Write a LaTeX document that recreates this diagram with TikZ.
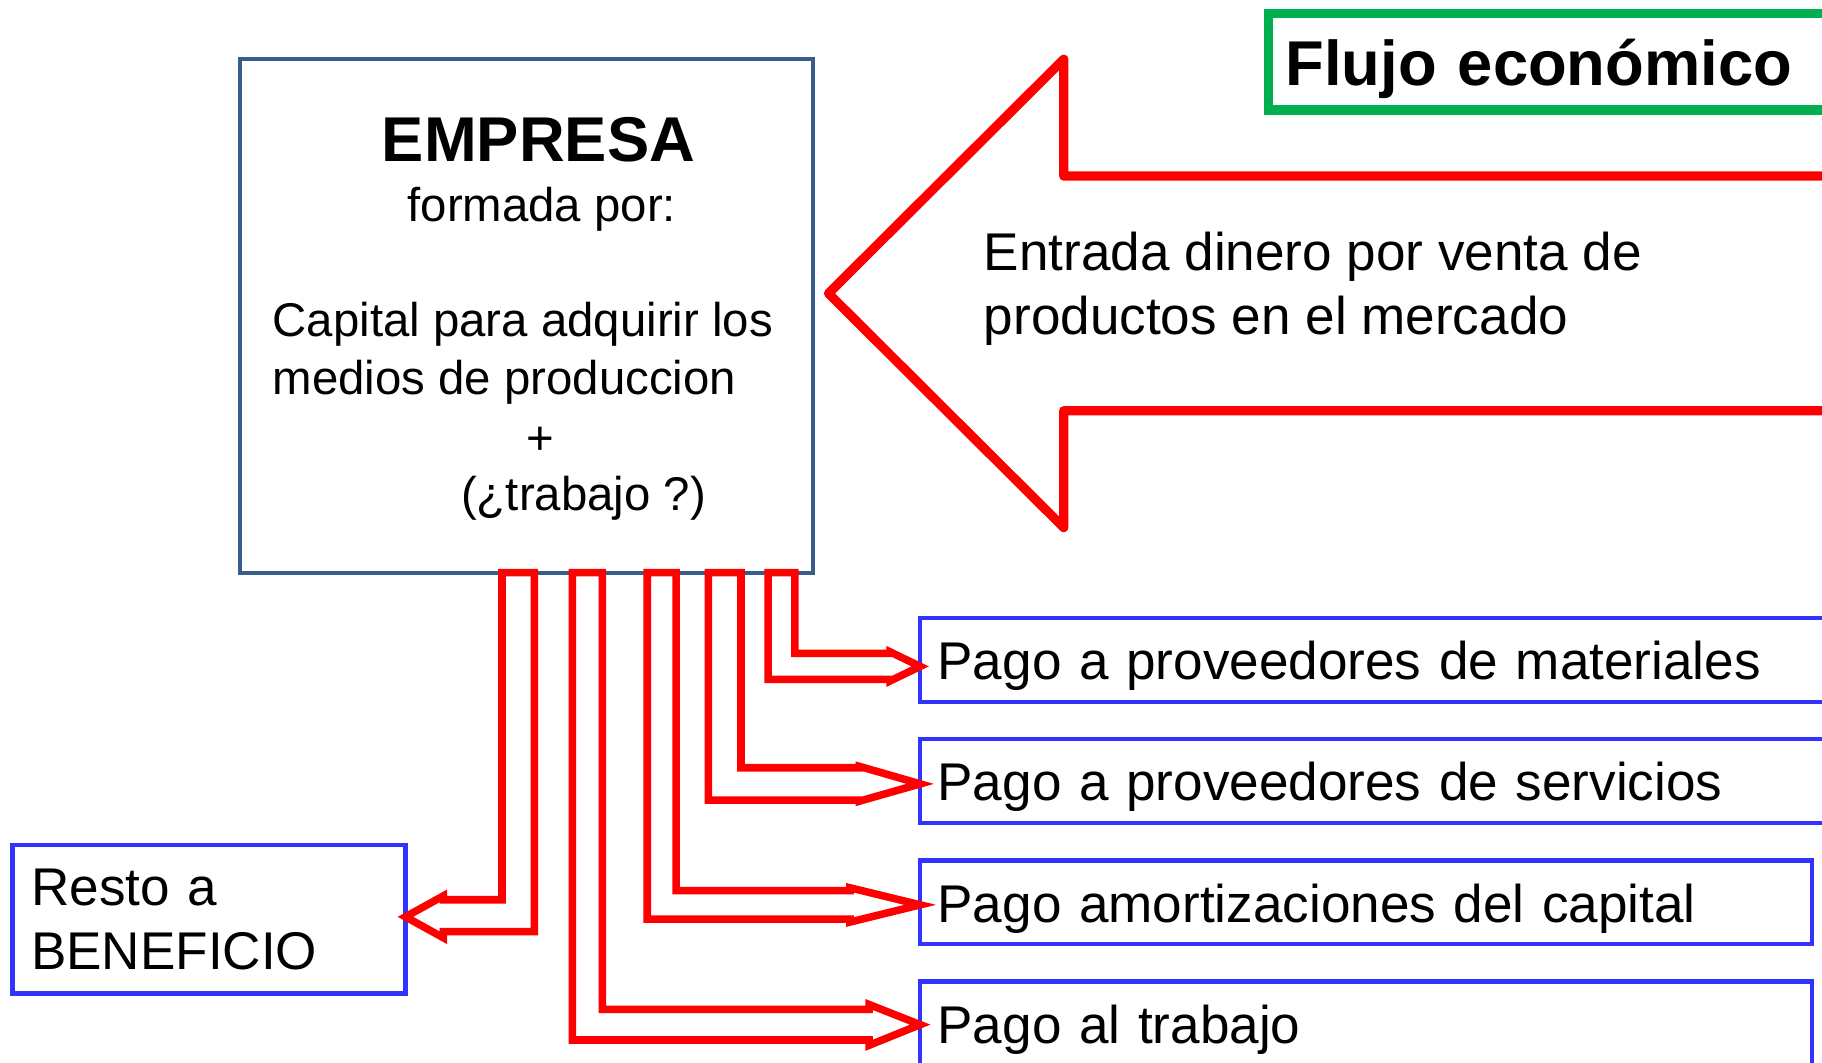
\documentclass[tikz,border=0pt]{standalone}
\usepackage{fontspec}
\setmainfont{Liberation Sans}
\definecolor{azulempresa}{RGB}{56,93,138}
\definecolor{azulcaja}{RGB}{51,51,255}
\definecolor{verdetitulo}{RGB}{0,176,80}

\begin{document}
\begin{tikzpicture}[x=0.02cm,y=-0.02cm,
        texto/.style={inner sep=0pt,font=\fontsize{23.2}{28.45}\selectfont},
        caja/.style={draw=azulcaja,line width=0.072cm,inner xsep=0.3cm,inner ysep=0pt,outer sep=0pt,
            align=left,font=\fontsize{26}{31}\selectfont},
        pago/.style={caja,minimum height=1.44cm,text height=24pt,text depth=4.65pt},
        flecha/.style={draw=red,line width=0.13cm,line join=miter}]
    \useasboundingbox (0,0) rectangle (1568,914.8);
    % empresa
    \node[draw=azulempresa,line width=0.07cm,outer sep=0pt,minimum width=9.878cm,minimum height=8.844cm] (empresa) at (453.15,271.8) {};
    \node[texto,anchor=base,font=\fontsize{31}{37}\selectfont\bfseries] (titulo) at (463.4,138.7) {EMPRESA};
    \node[texto,anchor=base] (formada) at (466.3,190.6) {formada por:};
    \node[texto,anchor=base west] (capital) at (234.4,289.8) {Capital para adquirir los};
    \node[texto,anchor=base west] (medios) at (234.4,339.7) {medios de produccion};
    \node[texto,anchor=base] (mas) at (465.4,391) {+};
    \node[texto,anchor=base] (interrogante) at (502.2,439) {(¿trabajo ?)};
    % entrada de dinero
    \draw[red,line width=0.16cm,line join=round] (713,252.5) -- (915.4,51) -- (915.4,151.5) -- (1572,151.5) -- (1572,353.5) -- (915.4,353.5) -- (915.4,454) -- cycle;
    \node[texto,anchor=west,align=left,font=\fontsize{26}{31.1}\selectfont] (entrada) at (846.4,248.4) {Entrada dinero por venta de\\productos en el mercado};
    \node[caja,draw=verdetitulo,line width=0.16cm,text width=9.014cm,minimum height=1.666cm,
        text height=29pt,text depth=5.3pt,font=\fontsize{31}{37}\selectfont\bfseries] (flujo) at (1331.65,53.05) {Flujo económico};
    % pagos
    \node[pago,text width=15.164cm] (materiales) at (1185.9,568) {Pago a proveedores de materiales};
    \node[pago,text width=15.164cm] (servicios) at (1185.9,672.3) {Pago a proveedores de servicios};
    \node[pago,text width=14.748cm] (amortizaciones) at (1175.5,776.5) {Pago amortizaciones del capital};
    \node[pago,text width=14.748cm] (trabajo) at (1175.5,880.7) {Pago al trabajo};
    \node[caja,text width=6.124cm,inner xsep=0.32cm,minimum height=2.55cm] (beneficio) at (179.9,791.25) {Resto a\\BENEFICIO};
    % flechas de salida
    \foreach \xa/\xb/\ya/\yb/\xc/\ba/\bb/\yt/\destino in {
        684/661/562.3/584.6/766/561/586/573.5/materiales.west,
        637.7/609.6/660.7/688.5/739.5/659.5/689.5/674.6/servicios.west,
        581.8/557/766.5/790.9/731.5/764/793.5/778.7/amortizaciones.west,
        518.4/492.6/868.6/895/748/864.5/899.5/881.8/trabajo.west,
        432/459.8/774.3/801.8/381.5/771/807/789/beneficio.east}
    \draw[flecha] (\xa,0 |- empresa.south) -- (\xa,\ya) -- (\xc,\ya) -- (\xc,\ba) -- (\destino |- 0,\yt)
        -- (\xc,\bb) -- (\xc,\yb) -- (\xb,\yb) -- (\xb,0 |- empresa.south) -- cycle;
\end{tikzpicture}
\end{document}
